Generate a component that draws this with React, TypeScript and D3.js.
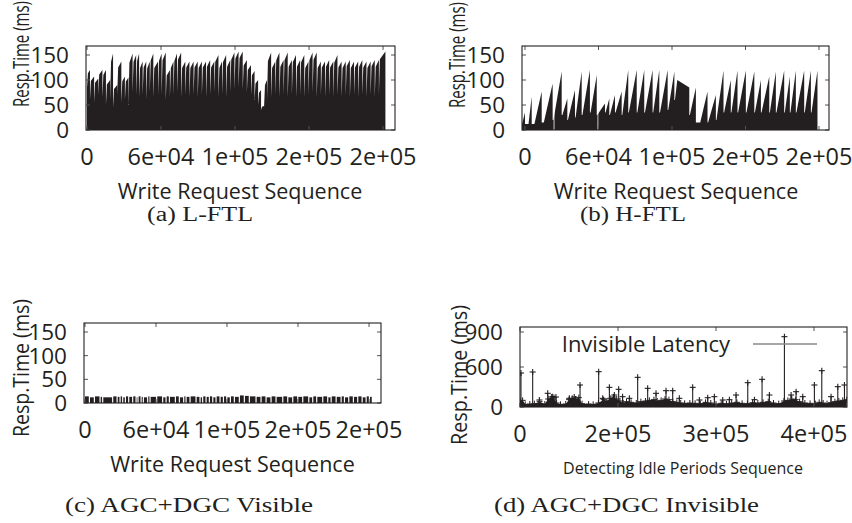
import React from "react";
import * as d3 from "d3";

const FONT = "'Open Sans', 'Noto Sans', sans-serif";
const SERIF = "'Liberation Serif', 'DejaVu Serif', serif";
const INK = "#231f20";

// ---------- shared axis ticks ----------
const seqTicks = [0, 62500, 125000, 187500, 250000];
const seqTickLabels = ["0", "6e+04", "1e+05", "2e+05", "2e+05"];
const respTicks = [0, 50, 100, 150];
const respTickLabels = ["0", "50", "100", "150"];
const idleTicks = [0, 150000, 300000, 450000];
const idleTickLabels = ["0", "2e+05", "3e+05", "4e+05"];
const invTicks = [0, 600, 1125];
const invTickLabels = ["0", "600", "900"];

// ---------- (a) L-FTL : sawtooth teeth (positions in thousand requests, values in ms) ----------
const aToothK = [2.5, 6, 9.5, 13, 16, 19.5, 22, 25.5, 29, 32, 35, 38.5, 41.5, 44, 47, 50, 53, 56, 60, 63,
  66.5, 70, 73, 76, 79.5, 83, 86.5, 90, 93.5, 97, 100.5, 104, 107.5, 111, 114, 117.5, 121, 124.5, 128, 131.5,
  135, 138.5, 141.5, 144.5, 147, 149.5, 152, 155.5, 159, 162.5, 166, 169.5, 173, 176.5, 180, 183.5, 187, 190.5, 194, 197.5,
  201, 204.5, 208, 211.5, 215, 218.5, 222, 225.5, 229, 232.5, 236, 239.5, 243, 246.5, 252];
const aPeak = [120, 107, 103, 120, 120, 100, 153, 90, 137, 107,
  105, 153, 150, 153, 137, 137, 137, 153, 137, 153,
  155, 120, 137, 153, 155, 137, 137, 137, 137, 137,
  137, 140, 137, 150, 137, 150, 140, 155, 157, 157,
  140, 130, 118, 100, 80, 48, 100, 155, 137, 155,
  140, 155, 140, 150, 140, 150, 137, 155, 155, 137,
  137, 140, 137, 150, 137, 137, 140, 137, 137, 140,
  137, 137, 140, 140, 157];
const aLow = [85, 60, 55, 70, 65, 50, 60, 45, 70, 55,
  60, 50, 75, 70, 65, 70, 60, 75, 65, 70,
  70, 60, 65, 70, 75, 65, 70, 65, 70, 65,
  70, 65, 70, 75, 65, 70, 65, 75, 80, 85,
  80, 75, 70, 60, 50, 40, 45, 60, 65, 70,
  65, 70, 65, 70, 65, 70, 65, 70, 75, 65,
  70, 65, 70, 65, 70, 65, 70, 65, 70, 65,
  70, 65, 70, 65, 70];

// ---------- (b) H-FTL : ramps ----------
const bRampK = [-2.5, 3, 8, 16, 24.2, 31.8, 36.5, 43, 48.8, 55.8, 61.5, 68.5, 72.2, 77, 82.7, 88.3, 95.5, 102, 109, 114.8,
  121.8, 127.5, 129.5, 140.2, 149, 155.7, 162.8, 169.3, 175.5, 181.2, 188.3, 195.5, 201.1, 208.2, 213.8, 220.9, 225.7, 230.8, 237.9, 243.6];
const bLow = [12, 12, 12, 15, 20, 30, 20, 25, 30, 35, 30, 35, 30, 35, 30, 35, 35, 35, 35, 35,
  40, 60, 100, 30, 15, 15, 20, 35, 35, 35, 35, 35, 35, 35, 35, 35, 35, 35, 35, 35];
const bPeakK = [0, 5.7, 14.2, 23.5, 31.2, 36, 42.5, 48.2, 55.2, 61, 68, 71.7, 76.5, 82.2, 87.8, 95, 101.4, 108.5, 114.2, 121.3,
  127, 129.5, 139.7, 145.3, 155.2, 162.3, 168.8, 175, 180.7, 187.8, 195, 200.6, 207.7, 213.3, 220.4, 225.2, 230.3, 237.4, 243.1, 248.7];
const bPeak = [35, 67, 77, 93, 117, 63, 80, 117, 120, 110, 53, 63, 70, 77, 120, 120, 120, 120, 120, 120,
  117, 100, 85, 85, 77, 70, 119, 100, 119, 119, 117, 100, 107, 117, 119, 107, 119, 119, 119, 119];
const bGapK = [24.7, 62];

// ---------- (c) AGC+DGC visible : short bursts ----------
const cBlockK = [0, 4.4, 8.8, 13.8, 16.1, 24.9, 28.8, 31.4, 33.7, 36.1, 39, 42.5, 45.5, 47.2, 49.9, 51.9, 55.7, 57.8, 63.6, 68.9,
  71.9, 74.8, 80.1, 83.6, 87.4, 89.5, 93, 98.3, 101.8, 104.1, 107.1, 110, 113, 115.9, 119.4, 122.4, 125.3, 128.5, 132, 136.4,
  140.8, 145.2, 151.1, 155.5, 159.9, 164.3, 168.7, 174.6, 179, 183.4, 187.8, 192.2, 197.5, 201, 204.5, 209.8, 214.2, 217.2, 221.6, 226,
  228.9, 232.7, 236.8, 240.6, 244.5, 248, 250.9];
const cHeight = [14, 12, 14, 13, 12, 14, 13, 14, 12, 14, 13, 14, 12, 14, 13, 12, 14, 13, 14, 12,
  14, 13, 14, 12, 14, 13, 14, 13, 12, 14, 13, 14, 12, 14, 13, 14, 12, 14, 13, 16,
  15, 14, 13, 14, 12, 14, 13, 14, 12, 14, 13, 14, 12, 14, 13, 14, 12, 14, 13, 14,
  12, 14, 13, 14, 12, 14, 13];
const cEndK = 252.4;

// ---------- (d) AGC+DGC invisible ----------
const dSpikeK = [1.5, 19.4, 29.6, 42.4, 50, 55, 75.5, 83, 91.9, 120.4, 126.6, 136.8, 144.4, 151, 157, 167.4, 180.1, 195.4, 208.2, 223.5,
  233.7, 243.9, 264.3, 274.5, 287.3, 297.5, 310.3, 320.5, 330.7, 348.6, 358.8, 370.5, 381.7, 404.7, 414.9, 422.6, 432.8, 450.6, 461.9, 476.1,
  486.4, 496.6];
const dSpikeV = [510, 525, 105, 205, 155, 150, 130, 150, 330, 530, 130, 295, 180, 265, 155, 130, 445, 280, 205, 245,
  245, 130, 295, 105, 140, 155, 105, 110, 180, 365, 110, 415, 180, 1055, 180, 230, 155, 330, 545, 155,
  305, 330];
const dBaseK = [0, 4, 8, 15, 22, 30, 38, 43, 48, 52, 56, 62, 70, 75, 80, 85, 90, 95, 105, 112, 120, 128, 133, 138, 143, 148, 153, 158,
  163, 170, 178, 185, 192, 198, 205, 210, 216, 222, 228, 234, 240, 246, 252, 260, 268, 276, 284, 292, 300, 308, 316, 324, 332, 340,
  348, 356, 364, 372, 380, 388, 396, 404, 410, 416, 422, 428, 436, 444, 452, 458, 464, 470, 476, 482, 488, 494, 500];
const dBaseV = [90, 100, 40, 45, 50, 80, 45, 120, 150, 140, 60, 40, 45, 110, 130, 120, 140, 50, 45, 40, 60, 110, 90, 130, 150, 120, 90, 60,
  80, 70, 60, 80, 90, 100, 110, 90, 100, 120, 110, 80, 70, 60, 55, 60, 55, 50, 70, 60, 45, 55, 50, 60, 70, 55,
  50, 65, 60, 70, 80, 60, 50, 90, 100, 120, 110, 80, 60, 55, 50, 70, 60, 50, 65, 80, 90, 100, 110];

type Frame = { l: number; r: number; t: number; b: number };
type Sc = d3.ScaleLinear<number, number>;

function Panel(props: {
  id: string;
  frame: Frame;
  xDomain: [number, number];
  yDomain: [number, number];
  xTicks: number[];
  xTickLabels: string[];
  yTicks: number[];
  yTickLabels: string[];
  yLabel: { x: number; y: number; len: number };
  xLabel: { text: string; cx: number; y: number; size: number };
  caption: { text: string; x: number; y: number; len: number };
  draw: (x: Sc, y: Sc) => React.ReactNode;
}) {
  const { id, frame: f } = props;
  const x = d3.scaleLinear().domain(props.xDomain).range([f.l, f.r]);
  const y = d3.scaleLinear().domain(props.yDomain).range([f.b, f.t]);
  const T = 4;
  return (
    <g>
      <defs>
        <clipPath id={id}>
          <rect x={f.l} y={f.t} width={f.r - f.l} height={f.b - f.t} />
        </clipPath>
      </defs>
      <g clipPath={`url(#${id})`}>{props.draw(x, y)}</g>
      {props.xTicks.map((v, i) => (
        <g key={"xt" + i}>
          <line x1={x(v)} x2={x(v)} y1={f.t} y2={f.t + T} stroke="#555" strokeWidth={1} />
          <line x1={x(v)} x2={x(v)} y1={f.b} y2={f.b - T} stroke="#555" strokeWidth={1} />
          <text x={x(v)} y={f.b + 35} textAnchor="middle" fontFamily={FONT} fontSize={23.5} fill={INK}>
            {props.xTickLabels[i]}
          </text>
        </g>
      ))}
      {props.yTicks.map((v, i) => (
        <g key={"yt" + i}>
          <line x1={f.l} x2={f.l + T} y1={y(v)} y2={y(v)} stroke="#555" strokeWidth={1} />
          <line x1={f.r} x2={f.r - T} y1={y(v)} y2={y(v)} stroke="#555" strokeWidth={1} />
          <text x={f.l - 17} y={y(v)} dy="0.36em" textAnchor="end" fontFamily={FONT} fontSize={22.5} fill={INK}>
            {props.yTickLabels[i]}
          </text>
        </g>
      ))}
      <rect x={f.l} y={f.t} width={f.r - f.l} height={f.b - f.t} fill="none" stroke={INK} strokeWidth={1.1} />
      <text
        transform={`translate(${props.yLabel.x},${props.yLabel.y}) rotate(-90)`}
        fontFamily={FONT}
        fontSize={22}
        fill={INK}
        textLength={props.yLabel.len}
        lengthAdjust="spacingAndGlyphs"
      >
        Resp.Time (ms)
      </text>
      <text x={props.xLabel.cx} y={props.xLabel.y} textAnchor="middle" fontFamily={FONT} fontSize={props.xLabel.size} fill={INK}>
        {props.xLabel.text}
      </text>
      <text
        x={props.caption.x}
        y={props.caption.y}
        fontFamily={SERIF}
        fontSize={20}
        fill={INK}
        textLength={props.caption.len}
        lengthAdjust="spacingAndGlyphs"
      >
        {props.caption.text}
      </text>
    </g>
  );
}

const RISE = 0.8;

function drawA(x: Sc, y: Sc) {
  const pts: [number, number][] = [[0, 0]];
  let prev = 0;
  aToothK.forEach((k, i) => {
    const lo = aLow[i];
    const hi = aPeak[i];
    pts.push([prev, lo]);
    pts.push([prev + RISE, lo + (hi - lo) * 0.82]);
    pts.push([k, hi]);
    prev = k;
  });
  pts.push([prev, 0]);
  const area = d3
    .area<[number, number]>()
    .x((d) => x(d[0] * 1000))
    .y0(y(0))
    .y1((d) => y(d[1]));
  return <path d={area(pts) || ""} fill={INK} />;
}

function drawB(x: Sc, y: Sc) {
  const pts: [number, number][] = [[bRampK[0], 0]];
  let prevPeakK = bRampK[0];
  bRampK.forEach((rk, i) => {
    pts.push([prevPeakK, bLow[i]]);
    pts.push([rk, bLow[i]]);
    pts.push([bPeakK[i], bPeak[i]]);
    prevPeakK = bPeakK[i];
  });
  pts.push([prevPeakK, 0]);
  const area = d3
    .area<[number, number]>()
    .x((d) => x(d[0] * 1000))
    .y0(y(0))
    .y1((d) => y(d[1]));
  return (
    <g>
      <path d={area(pts) || ""} fill={INK} />
      {bGapK.map((k, i) => (
        <line key={i} x1={x(k * 1000)} x2={x(k * 1000)} y1={y(0)} y2={y(160)} stroke="#fff" strokeWidth={0.9} opacity={0.85} />
      ))}
    </g>
  );
}

function drawC(x: Sc, y: Sc) {
  return (
    <g>
      {cBlockK.map((k, i) => {
        const next = i + 1 < cBlockK.length ? cBlockK[i + 1] : cEndK;
        const x0 = x(k * 1000);
        const x1 = x(next * 1000) - (i + 1 < cBlockK.length ? 1.2 : 0);
        return <rect key={i} x={x0} y={y(cHeight[i])} width={Math.max(0.5, x1 - x0)} height={y(0) - y(cHeight[i])} fill={INK} />;
      })}
    </g>
  );
}

function drawD(x: Sc, y: Sc) {
  const basePts = dBaseK.map((k, i) => [k, dBaseV[i]] as [number, number]);
  const area = d3
    .area<[number, number]>()
    .x((d) => x(d[0] * 1000))
    .y0(y(0))
    .y1((d) => y(d[1]));
  const P = 3;
  return (
    <g>
      <path d={area(basePts) || ""} fill={INK} />
      {basePts.map((d, i) => (
        <g key={"b" + i} stroke={INK} strokeWidth={1}>
          <line x1={x(d[0] * 1000) - P} x2={x(d[0] * 1000) + P} y1={y(d[1])} y2={y(d[1])} />
          <line x1={x(d[0] * 1000)} x2={x(d[0] * 1000)} y1={y(d[1]) - P} y2={y(d[1]) + P} />
        </g>
      ))}
      {dSpikeK.map((k, i) => {
        const px = x(k * 1000);
        const py = y(dSpikeV[i]);
        return (
          <g key={"s" + i} stroke={INK} strokeWidth={1.1}>
            <line x1={px} x2={px} y1={y(0)} y2={py} />
            <line x1={px - P} x2={px + P} y1={py} y2={py} />
            <line x1={px} x2={px} y1={py - P} y2={py + P} />
          </g>
        );
      })}
    </g>
  );
}

export default function App() {
  return (
    <svg
      width={852}
      height={523}
      viewBox="0 0 852 523"
      style={{ position: "absolute", left: 0, top: 0, display: "block", background: "#fff" }}
    >
      <rect width={852} height={523} fill="#fff" />
      <Panel
        id="clipA"
        frame={{ l: 86, r: 395, t: 46, b: 130 }}
        xDomain={[-850, 260100]}
        yDomain={[0, 168]}
        xTicks={seqTicks}
        xTickLabels={seqTickLabels}
        yTicks={respTicks}
        yTickLabels={respTickLabels}
        yLabel={{ x: 29, y: 107, len: 106 }}
        xLabel={{ text: "Write Request Sequence", cx: 240, y: 199, size: 21.5 }}
        caption={{ text: "(a) L-FTL", x: 147, y: 221, len: 106 }}
        draw={drawA}
      />
      <Panel
        id="clipB"
        frame={{ l: 522, r: 829, t: 46, b: 130 }}
        xDomain={[-2550, 258500]}
        yDomain={[0, 168]}
        xTicks={seqTicks}
        xTickLabels={seqTickLabels}
        yTicks={respTicks}
        yTickLabels={respTickLabels}
        yLabel={{ x: 465, y: 108, len: 106 }}
        xLabel={{ text: "Write Request Sequence", cx: 676, y: 199, size: 21.5 }}
        caption={{ text: "(b) H-FTL", x: 580, y: 221, len: 106 }}
        draw={drawB}
      />
      <Panel
        id="clipC"
        frame={{ l: 84, r: 381, t: 323, b: 403 }}
        xDomain={[-880, 260560]}
        yDomain={[0, 169]}
        xTicks={seqTicks}
        xTickLabels={seqTickLabels}
        yTicks={respTicks}
        yTickLabels={respTickLabels}
        yLabel={{ x: 29, y: 437, len: 138 }}
        xLabel={{ text: "Write Request Sequence", cx: 232.5, y: 472, size: 21.5 }}
        caption={{ text: "(c) AGC+DGC Visible", x: 65, y: 512, len: 248 }}
        draw={drawC}
      />
      <Panel
        id="clipD"
        frame={{ l: 520, r: 847, t: 327, b: 407 }}
        xDomain={[0, 500500]}
        yDomain={[0, 1200]}
        xTicks={idleTicks}
        xTickLabels={idleTickLabels}
        yTicks={invTicks}
        yTickLabels={invTickLabels}
        yLabel={{ x: 467, y: 445, len: 140 }}
        xLabel={{ text: "Detecting Idle Periods Sequence", cx: 683, y: 474, size: 16 }}
        caption={{ text: "(d) AGC+DGC Invisible", x: 494, y: 512, len: 265 }}
        draw={drawD}
      />
      <text x={730} y={352} textAnchor="end" fontFamily={FONT} fontSize={22} fill={INK}>
        Invisible Latency
      </text>
      <line x1={753} x2={817} y1={344} y2={344} stroke="#888" strokeWidth={1.5} />
    </svg>
  );
}
